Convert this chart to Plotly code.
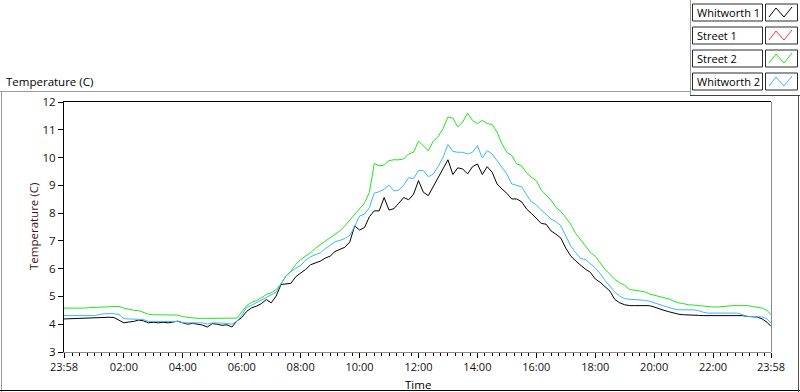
import plotly.graph_objects as go
import pandas as pd

# ---------------- data ----------------
# sample times: 23:58 (previous day), every 10 min from 00:10 to 23:50, then 23:58
start_time = "2024-01-01 23:58"
end_time = "2024-01-02 23:58"
sample_times = ([pd.Timestamp(start_time)]
                + [pd.Timestamp("2024-01-02") + pd.Timedelta(minutes=10 * k) for k in range(1, 144)]
                + [pd.Timestamp(end_time)])

whitworth_1 = [
    4.19, 4.20, 4.19, 4.19, 4.20, 4.22, 4.22, 4.24, 4.24, 4.25, 4.24, 4.15,
    4.05, 4.08, 4.10, 4.15, 4.12, 4.05, 4.07, 4.05, 4.07, 4.05, 4.08, 4.11,
    4.05, 4.00, 4.03, 4.00, 3.97, 3.90, 4.02, 4.00, 3.96, 3.98, 3.90, 4.11,
    4.24, 4.46, 4.59, 4.65, 4.74, 4.89, 4.77, 5.01, 5.43, 5.45, 5.47, 5.71,
    5.83, 5.97, 6.14, 6.21, 6.27, 6.38, 6.45, 6.62, 6.69, 6.77, 6.96, 7.54,
    7.39, 7.48, 7.87, 8.08, 8.08, 8.56, 8.11, 8.16, 8.36, 8.56, 8.48, 8.68,
    9.17, 8.75, 8.63, 8.95, 9.29, 9.63, 9.92, 9.39, 9.63, 9.59, 9.41, 9.67,
    9.77, 9.39, 9.67, 9.47, 9.05, 8.87, 8.71, 8.51, 8.51, 8.41, 8.15, 7.99,
    7.82, 7.63, 7.60, 7.36, 7.24, 7.10, 6.74, 6.46, 6.28, 6.13, 5.98, 5.87,
    5.63, 5.51, 5.34, 5.19, 4.89, 4.77, 4.70, 4.67, 4.67, 4.67, 4.67, 4.67,
    4.62, 4.55, 4.50, 4.45, 4.40, 4.36, 4.34, 4.34, 4.34, 4.32, 4.31, 4.31,
    4.31, 4.30, 4.31, 4.31, 4.31, 4.31, 4.31, 4.28, 4.28, 4.26, 4.19, 4.07,
    3.92,
]

street_1 = []  # no data visible in the chart

street_2 = [
    4.58, 4.58, 4.58, 4.57, 4.58, 4.60, 4.61, 4.62, 4.62, 4.63, 4.64, 4.64,
    4.58, 4.53, 4.50, 4.49, 4.43, 4.36, 4.34, 4.34, 4.34, 4.34, 4.34, 4.33,
    4.27, 4.25, 4.22, 4.21, 4.21, 4.21, 4.21, 4.21, 4.21, 4.21, 4.21, 4.22,
    4.44, 4.67, 4.79, 4.85, 4.95, 5.07, 5.13, 5.25, 5.45, 5.73, 5.91, 6.15,
    6.33, 6.45, 6.57, 6.73, 6.87, 6.99, 7.11, 7.24, 7.36, 7.54, 7.75, 7.96,
    8.16, 8.36, 8.74, 9.79, 9.70, 9.73, 9.89, 9.92, 9.92, 9.95, 10.13, 10.19,
    10.59, 10.43, 10.25, 10.59, 10.75, 11.04, 11.46, 11.42, 11.10, 11.28, 11.60, 11.34,
    11.22, 11.34, 11.22, 11.19, 10.92, 10.49, 10.19, 10.07, 9.77, 9.71, 9.45, 9.29,
    9.17, 8.83, 8.64, 8.47, 8.21, 8.06, 7.84, 7.60, 7.27, 7.06, 6.82, 6.59,
    6.45, 6.21, 5.97, 5.80, 5.61, 5.49, 5.40, 5.25, 5.22, 5.20, 5.17, 5.09,
    5.05, 5.01, 4.95, 4.91, 4.83, 4.77, 4.74, 4.70, 4.69, 4.67, 4.67, 4.64,
    4.62, 4.62, 4.64, 4.64, 4.67, 4.67, 4.67, 4.67, 4.64, 4.61, 4.58, 4.50,
    4.34,
]

whitworth_2 = [
    4.31, 4.31, 4.31, 4.31, 4.31, 4.31, 4.31, 4.35, 4.38, 4.38, 4.38, 4.35,
    4.20, 4.19, 4.19, 4.18, 4.17, 4.10, 4.10, 4.10, 4.10, 4.11, 4.12, 4.10,
    4.05, 4.05, 4.05, 4.05, 4.05, 4.00, 4.05, 4.05, 4.05, 4.03, 4.00, 4.11,
    4.32, 4.61, 4.68, 4.77, 4.86, 4.95, 5.07, 5.15, 5.46, 5.73, 5.89, 6.02,
    6.11, 6.31, 6.43, 6.50, 6.57, 6.72, 6.85, 6.97, 7.02, 7.08, 7.20, 7.51,
    7.90, 7.96, 8.20, 8.72, 8.77, 8.86, 9.01, 8.80, 8.83, 9.01, 9.28, 9.24,
    9.53, 9.53, 9.31, 9.41, 9.67, 10.01, 10.47, 10.22, 10.19, 10.19, 10.13, 10.19,
    10.43, 9.98, 10.25, 10.13, 9.89, 9.63, 9.41, 9.05, 8.99, 8.95, 8.66, 8.41,
    8.30, 8.11, 7.96, 7.78, 7.70, 7.54, 7.18, 6.82, 6.58, 6.37, 6.33, 6.19,
    6.03, 5.83, 5.57, 5.37, 5.15, 5.01, 4.92, 4.90, 4.89, 4.86, 4.86, 4.83,
    4.77, 4.70, 4.64, 4.60, 4.55, 4.52, 4.52, 4.52, 4.52, 4.49, 4.43, 4.40,
    4.40, 4.40, 4.40, 4.40, 4.40, 4.40, 4.34, 4.28, 4.28, 4.28, 4.26, 4.19,
    4.04,
]

series_names = ["Whitworth 1", "Street 1", "Street 2", "Whitworth 2"]
series_values = [whitworth_1, street_1, street_2, whitworth_2]
series_colors = ["#000000", "#ff3a3a", "#1ee61e", "#3cb8f8"]

x_tick_labels = ["23:58", "02:00", "04:00", "06:00", "08:00", "10:00", "12:00",
                 "14:00", "16:00", "18:00", "20:00", "22:00", "23:58"]
x_tick_times = ([start_time]
                + ["2024-01-02 %s" % t for t in x_tick_labels[1:-1]]
                + [end_time])
y_ticks = [3, 4, 5, 6, 7, 8, 9, 10, 11, 12]
y_range = [3, 12]

chart_title = "Temperature (C)"
y_title = "Temperature (C)"
x_title = "Time"

# ---------------- geometry helpers ----------------
W, H = 800, 392
PL, PT, PR, PB = 64, 102, 771, 352
PW, PH = PR - PL, PB - PT


def fx(x):
    return (x - PL) / PW


def fy(y):
    return (PB - y) / PH


FONT = "Open Sans, Noto Sans, DejaVu Sans, sans-serif"

fig = go.Figure()
for name, vals, col in zip(series_names, series_values, series_colors):
    fig.add_trace(go.Scatter(
        x=sample_times[:len(vals)], y=vals, mode="lines", name=name,
        line=dict(color=col, width=1), showlegend=False,
    ))

minor_ticks = pd.date_range("2024-01-02 00:15", "2024-01-02 23:45", freq="15min")

fig.update_layout(
    width=W, height=H,
    margin=dict(l=PL, r=W - PR, t=PT, b=H - PB, pad=0),
    paper_bgcolor="white", plot_bgcolor="white",
    font=dict(family=FONT, size=11, color="#111111"),
    showlegend=False,
    xaxis=dict(
        type="date", range=[start_time, end_time],
        tickmode="array", tickvals=x_tick_times, ticktext=x_tick_labels,
        ticks="outside", ticklen=5, tickwidth=1, tickcolor="#000000",
        showgrid=False, zeroline=False,
        showline=True, linecolor="#8a8a8a", linewidth=1,
        tickfont=dict(size=11, color="#111111"),
        minor=dict(ticks="outside", ticklen=3, tickwidth=1, tickcolor="#000000",
                   tickmode="array", tickvals=list(minor_ticks), showgrid=False),
    ),
    yaxis=dict(
        range=y_range, tickmode="array", tickvals=y_ticks,
        ticks="outside", ticklen=5, tickwidth=1, tickcolor="#000000",
        showgrid=False, zeroline=False,
        showline=True, linecolor="#000000", linewidth=1,
        tickfont=dict(size=11.5, color="#111111"),
    ),
)

shapes = []


def hline(y, x0, x1, color, width=1):
    shapes.append(dict(type="line", xref="paper", yref="paper",
                       x0=fx(x0), x1=fx(x1), y0=fy(y), y1=fy(y),
                       line=dict(color=color, width=width)))


def vline(x, y0, y1, color, width=1):
    shapes.append(dict(type="line", xref="paper", yref="paper",
                       x0=fx(x), x1=fx(x), y0=fy(y0), y1=fy(y1),
                       line=dict(color=color, width=width)))


# plot frame: top dark, right grey
hline(PT - 0.5, PL - 1, PR, "#000000")
vline(PR + 0.5, PT, PB, "#8a8a8a")

# outer panel frame
hline(91.5, 0, 690, "#9a9a9a")
vline(1.5, 91.5, 392, "#9a9a9a")
hline(390.5, 0, 800, "#000000")
vline(798.5, 95.5, 392, "#505050")
# legend panel frame
vline(690.5, 0, 95.5, "#9a9a9a")
hline(95.5, 690, 800, "#404040")

annotations = []
# custom legend
for i, (name, col) in enumerate(zip(series_names, series_colors)):
    top = 4 + 23 * i
    bot = top + 17
    shapes.append(dict(type="rect", xref="paper", yref="paper",
                       x0=fx(692.5), x1=fx(762.5), y0=fy(bot), y1=fy(top),
                       line=dict(color="#2a2a2a", width=1), fillcolor="white"))
    shapes.append(dict(type="rect", xref="paper", yref="paper",
                       x0=fx(765.5), x1=fx(797.5), y0=fy(bot), y1=fy(top),
                       line=dict(color="#2a2a2a", width=1), fillcolor="white"))
    pts = [(769, bot - 4), (776, top + 4), (784, bot - 4), (792, top + 3)]
    path = "M " + " L ".join("%f,%f" % (fx(a), fy(b)) for a, b in pts)
    shapes.append(dict(type="path", xref="paper", yref="paper", path=path,
                       line=dict(color=col, width=1)))
    annotations.append(dict(xref="paper", yref="paper", x=fx(695), y=fy((top + bot) / 2),
                            xanchor="left", yanchor="middle", showarrow=False,
                            text=name, font=dict(size=11, color="#000000")))

# chart title (top-left)
annotations.append(dict(xref="paper", yref="paper", x=fx(4), y=fy(82),
                        xanchor="left", yanchor="middle", showarrow=False,
                        text=chart_title, font=dict(size=11.5, color="#000000")))
# axis titles
annotations.append(dict(xref="paper", yref="paper", x=fx(33), y=0.5,
                        xanchor="center", yanchor="middle", showarrow=False,
                        textangle=-90, text=y_title,
                        font=dict(size=11.5, color="#3a1212")))
annotations.append(dict(xref="paper", yref="paper", x=fx(418), y=fy(384),
                        xanchor="center", yanchor="middle", showarrow=False,
                        text=x_title, font=dict(size=11.5, color="#000000")))

fig.update_layout(shapes=shapes, annotations=annotations)
fig.write_html("out.html", config={"displayModeBar": False},
               post_script="document.body.style.margin='0';")
